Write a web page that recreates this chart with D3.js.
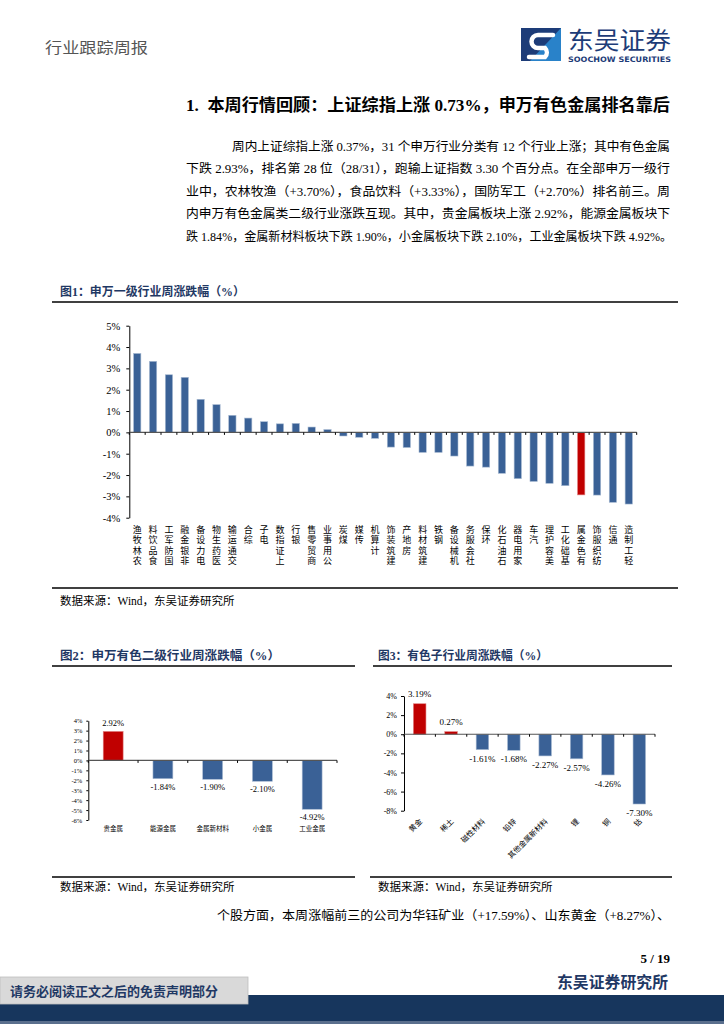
<!DOCTYPE html>
<html><head><meta charset="utf-8">
<script src="https://cdn.jsdelivr.net/npm/d3@7"></script>
<style>html,body{margin:0;padding:0;background:#fff;}svg{display:block}</style>
</head><body><div id="page"></div>
<script>
// page 5 of the weekly metals report: text + three bar charts, all one SVG
var SERIF = "'Liberation Serif','Noto Sans CJK SC',serif";
var CJK = "'Noto Sans CJK SC','Liberation Serif',sans-serif";
var NAVY = "#1f3864", BLUE = "#3a6196", RED = "#c00000";

// fig 1: SW level-1 industries, weekly change (%)
var industries = ["农林牧渔","食品饮料","国防军工","非银金融","电力设备","医药生物","交通运输","综合","电子","上证指数","银行","商贸零售","公用事业","煤炭","传媒","计算机","建筑装饰","房地产","建筑材料","钢铁","机械设备","社会服务","环保","石油石化","家用电器","汽车","美容护理","基础化工","有色金属","纺织服饰","通信","轻工制造"];
var industryChg = [3.70,3.33,2.70,2.58,1.55,1.30,0.80,0.67,0.50,0.40,0.42,0.25,0.13,-0.17,-0.23,-0.28,-0.69,-0.71,-0.94,-0.94,-1.11,-1.58,-1.63,-1.92,-2.17,-2.30,-2.39,-2.50,-2.93,-2.94,-3.28,-3.36];
var ticks1 = [-4,-3,-2,-1,0,1,2,3,4,5];

// fig 2: SW non-ferrous level-2
var metalSubs = ["贵金属","能源金属","金属新材料","小金属","工业金属"];
var metalSubChg = [2.92,-1.84,-1.90,-2.10,-4.92];
var ticks2 = [-6,-5,-4,-3,-2,-1,0,1,2,3,4];

// fig 3: non-ferrous sub-industries
var subInds = ["黄金","稀土","磁性材料","铅锌","其他金属新材料","锂","铜","钴"];
var subIndChg = [3.19,0.27,-1.61,-1.68,-2.27,-2.57,-4.26,-7.30];
var ticks3 = [-8,-6,-4,-2,0,2,4];

var paraLines = [
  "周内上证综指上涨 0.37%，31 个申万行业分类有 12 个行业上涨；其中有色金属",
  "下跌 2.93%，排名第 28 位（28/31），跑输上证指数 3.30 个百分点。在全部申万一级行",
  "业中，农林牧渔（+3.70%），食品饮料（+3.33%），国防军工（+2.70%）排名前三。周",
  "内申万有色金属类二级行业涨跌互现。其中，贵金属板块上涨 2.92%，能源金属板块下",
  "跌 1.84%，金属新材料板块下跌 1.90%，小金属板块下跌 2.10%，工业金属板块下跌 4.92%。"
];

var svg = d3.select("#page").append("svg").attr("width", 724).attr("height", 1024);
svg.append("rect").attr("width", 724).attr("height", 1024).attr("fill", "#fff");

function txt(x, y, s, o) {
  o = o || {};
  var t = svg.append("text").attr("x", x).attr("y", y).text(s)
    .attr("font-family", o.ff || SERIF).attr("font-size", o.fs || 12)
    .attr("fill", o.fill || "#000").attr("font-weight", o.fw || "normal")
    .attr("text-anchor", o.anchor || "start");
  if (o.len) t.attr("textLength", o.len).attr("lengthAdjust", "spacingAndGlyphs");
  return t;
}
function rule(x1, x2, y) {
  svg.append("line").attr("x1", x1).attr("x2", x2).attr("y1", y).attr("y2", y).attr("stroke", "#404040").attr("stroke-width", 2);
}

// ---------- header ----------
txt(45, 53, "行业跟踪周报", { ff: CJK, fs: 15, fill: "#555", len: 103 });
var logo = svg.append("g");
logo.append("rect").attr("x", 521).attr("y", 28).attr("width", 40).attr("height", 33).attr("fill", "#1d3c78");
logo.append("path").attr("d", "M561,28 V61 H530 Z").attr("fill", "#2b8ad2").attr("opacity", 0.9);
logo.append("path").attr("d", "M553,35 H538 A6.5,6.5 0 0 0 538,48 H545 A6.5,6.5 0 0 1 545,57 H529")
  .attr("fill", "none").attr("stroke", "#fff").attr("stroke-width", 4.5).attr("stroke-linecap", "round");
txt(568, 49, "东吴证券", { ff: CJK, fs: 24, fill: "#1d3c78", len: 103 });
txt(568, 62, "SOOCHOW SECURITIES", { ff: "'DejaVu Sans',sans-serif", fs: 7.5, fw: "bold", fill: "#1d3c78", len: 103 });

// ---------- heading + paragraph ----------
txt(186, 111, "1.\u00a0\u00a0本周行情回顾：上证综指上涨 0.73%，申万有色金属排名靠后", { fs: 16.5, fw: "bold", len: 484 });
paraLines.forEach(function (s, i) {
  var x0 = i === 0 ? 232 : 186;
  txt(x0, 150.5 + i * 22.5, s, { fs: 12.5, len: (i === 4 ? 672 : 670) - x0 });
});

// ---------- generic bar chart ----------
function barChart(c) {
  var x = d3.scaleBand().domain(c.cats).range([c.x0, c.x1]).paddingInner(c.pad).paddingOuter(c.pad / 2);
  var y = d3.scaleLinear().domain(c.dom).range([c.yb, c.yt]);
  var g = svg.append("g");
  g.selectAll(null).data(c.vals).enter().append("rect")
    .attr("x", function (d, i) { return x(c.cats[i]); }).attr("width", x.bandwidth())
    .attr("y", function (d) { return y(Math.max(0, d)); })
    .attr("height", function (d) { return Math.abs(y(d) - y(0)); })
    .attr("fill", function (d, i) { return c.color(d, i); })
    .attr("stroke", function (d, i) { return c.color(d, i) === RED ? "#e08080" : "#a9bbd3"; }).attr("stroke-width", 0.6);
  var ax = g.append("g").attr("transform", "translate(" + c.x0 + ",0)")
    .call(d3.axisLeft(y).tickValues(c.ticks).tickSize(c.tk).tickSizeOuter(0).tickPadding(c.tp).tickFormat(function (d) { return d + "%"; }));
  ax.select(".domain").attr("stroke", "#000");
  ax.selectAll("line").attr("stroke", "#000");
  ax.selectAll("text").attr("font-family", SERIF).attr("font-size", c.tfs).attr("fill", "#000");
  g.append("line").attr("x1", c.x0).attr("x2", c.x1).attr("y1", y(0)).attr("y2", y(0)).attr("stroke", "#555").attr("stroke-width", 1.2);
  d3.range(c.cats.length + 1).forEach(function (i) {
    var xx = c.x0 + i * x.step();
    g.append("line").attr("x1", xx).attr("x2", xx).attr("y1", y(0)).attr("y2", y(0) + 2.5).attr("stroke", "#000");
  });
  return { x: x, y: y, g: g };
}

// ---------- fig 1 ----------
txt(60, 295.5, "图1：申万一级行业周涨跌幅（%）", { fs: 12, fw: "bold", fill: NAVY, len: 185 });
rule(52, 678, 302);
var c1 = barChart({ cats: industries, vals: industryChg, x0: 129.3, x1: 636.7, pad: 0.54,
  dom: [-4, 5], yb: 517.7, yt: 325.7, ticks: ticks1, tk: 3, tp: 6, tfs: 10.5,
  color: function (d, i) { return industries[i] === "有色金属" ? RED : BLUE; } });
// labels read bottom-to-top with upright glyphs: vertical writing of the reversed name
industries.forEach(function (name) {
  var cx = c1.x(name) + c1.x.bandwidth() / 2;
  c1.g.append("text").attr("x", cx).attr("y", 525).style("writing-mode", "vertical-rl")
    .attr("letter-spacing", 1.5).attr("font-family", CJK).attr("font-size", 9)
    .text(name.split("").reverse().join(""));
});
rule(52, 678, 588);
txt(60, 605, "数据来源：Wind，东吴证券研究所", { fs: 11.5 });

// ---------- fig 2 ----------
txt(60, 659.5, "图2：申万有色二级行业周涨跌幅（%）", { fs: 12, fw: "bold", fill: NAVY, len: 220 });
rule(52, 355, 666);
var c2 = barChart({ cats: metalSubs, vals: metalSubChg, x0: 88.3, x1: 337, pad: 0.6,
  dom: [-6, 4], yb: 820, yt: 720.7, ticks: ticks2, tk: 2, tp: 4, tfs: 6.5,
  color: function (d) { return d > 0 ? RED : BLUE; } });
metalSubs.forEach(function (name, i) {
  var cx = c2.x(name) + c2.x.bandwidth() / 2, v = metalSubChg[i];
  c2.g.append("text").attr("x", cx).attr("y", v > 0 ? c2.y(v) - 5 : c2.y(v) + 11)
    .attr("text-anchor", "middle").attr("font-family", SERIF).attr("font-size", 8.5).text(v.toFixed(2) + "%");
  c2.g.append("text").attr("x", cx).attr("y", 830.5).attr("text-anchor", "middle")
    .attr("font-family", CJK).attr("font-size", 6.5).text(name);
});

// ---------- fig 3 ----------
txt(378, 659.5, "图3：有色子行业周涨跌幅（%）", { fs: 12, fw: "bold", fill: NAVY, len: 170 });
rule(373, 672, 666);
var c3 = barChart({ cats: subInds, vals: subIndChg, x0: 404, x1: 655, pad: 0.6,
  dom: [-8, 4], yb: 810.7, yt: 696, ticks: ticks3, tk: 3, tp: 4, tfs: 8,
  color: function (d) { return d > 0 ? RED : BLUE; } });
subInds.forEach(function (name, i) {
  var cx = c3.x(name) + c3.x.bandwidth() / 2, v = subIndChg[i];
  c3.g.append("text").attr("x", cx).attr("y", v > 0 ? c3.y(v) - 7 : c3.y(v) + 12)
    .attr("text-anchor", "middle").attr("font-family", SERIF).attr("font-size", 9).text(v.toFixed(2) + "%");
  var lx = cx + 3, ly = 822;
  c3.g.append("text").attr("x", lx).attr("y", ly).attr("text-anchor", "end")
    .attr("transform", "rotate(-45 " + lx + " " + ly + ")")
    .attr("font-family", CJK).attr("font-size", 7.5).text(name);
});

rule(52, 355, 877);
rule(370, 672, 877);
txt(60, 891, "数据来源：Wind，东吴证券研究所", { fs: 11.5 });
txt(378, 891, "数据来源：Wind，东吴证券研究所", { fs: 11.5 });

txt(217, 919.5, "个股方面，本周涨幅前三的公司为华钰矿业（+17.59%）、山东黄金（+8.27%）、", { fs: 12.5, len: 453 });

// ---------- footer ----------
txt(670, 963, "5 / 19", { fs: 13, fw: "bold", anchor: "end" });
txt(557, 988, "东吴证券研究所", { ff: CJK, fs: 15.5, fw: "bold", fill: NAVY, len: 111 });
svg.append("rect").attr("x", 0).attr("y", 995).attr("width", 724).attr("height", 29).attr("fill", "#17365d");
svg.append("rect").attr("x", 0).attr("y", 1021).attr("width", 724).attr("height", 3).attr("fill", "#5a6f8d");
svg.append("rect").attr("x", 0).attr("y", 977).attr("width", 248).attr("height", 27).attr("fill", "#d9d9d9").attr("stroke", "#bfbfbf").attr("stroke-width", 0.8);
txt(10, 995.5, "请务必阅读正文之后的免责声明部分", { ff: CJK, fs: 13, fw: "bold", fill: NAVY, len: 208 });
</script></body></html>
